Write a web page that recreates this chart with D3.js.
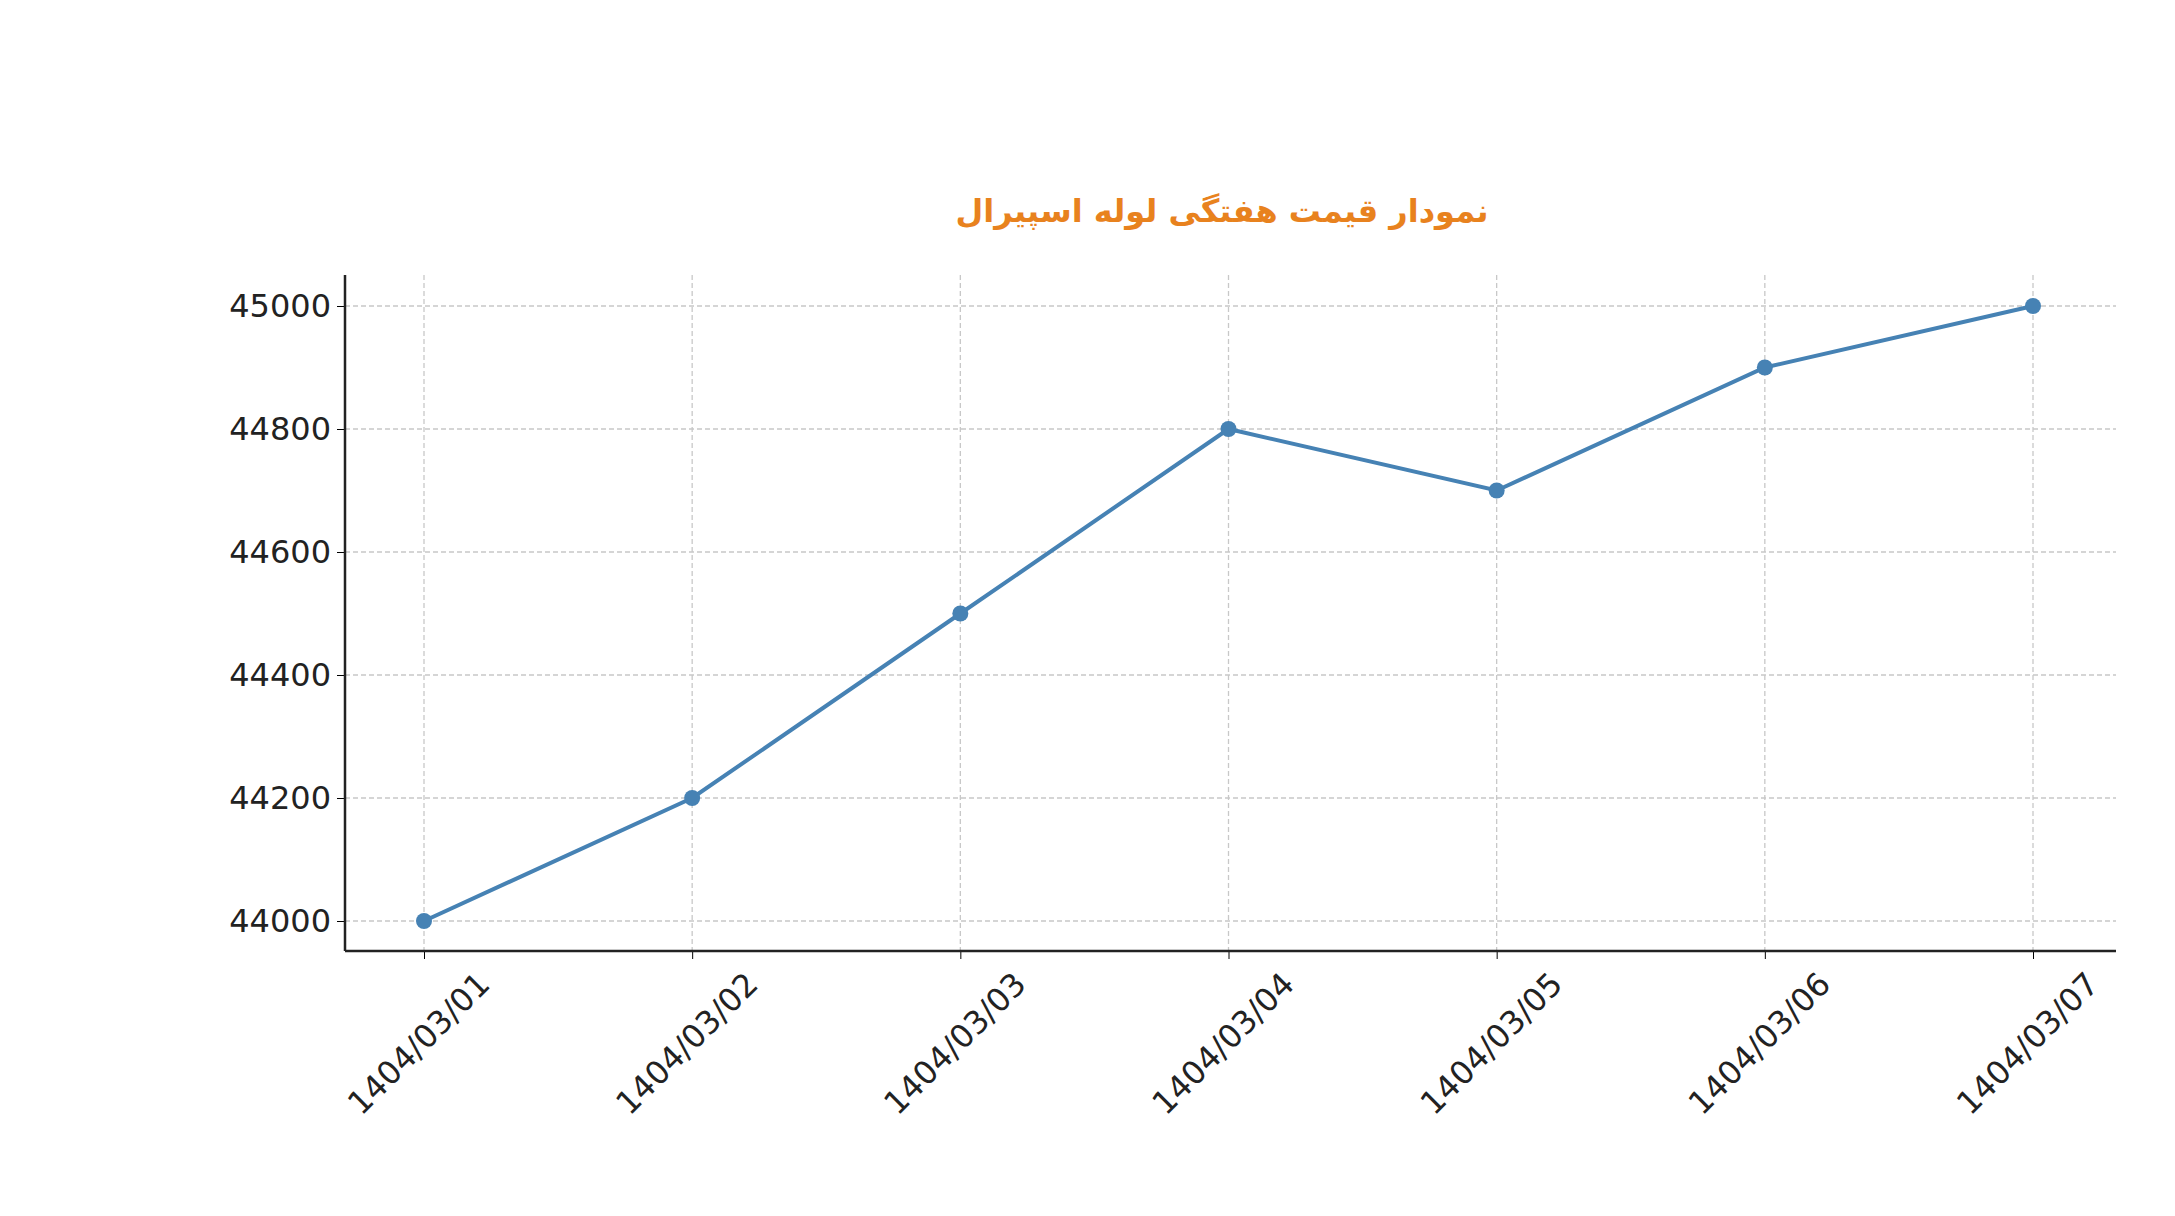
<!DOCTYPE html>
<html><head><meta charset="utf-8">
<script src="https://cdn.jsdelivr.net/npm/d3@7"></script>
<style>body{margin:0;background:#fff}</style></head>
<body><svg id="c" width="2175" height="1216"></svg>
<script>
const categories=["1404/03/01","1404/03/02","1404/03/03","1404/03/04","1404/03/05","1404/03/06","1404/03/07"];
const prices=[44000,44200,44500,44800,44700,44900,45000];
const yTicks=[44000,44200,44400,44600,44800,45000];
const title="نمودار قیمت هفتگی لوله اسپیرال";

const svg=d3.select("#c");
const L=345,R=2116,T=275,B=951;
const x=d3.scalePoint().domain(categories).range([424,2033]);
const y=d3.scaleLinear().domain([44000,45000]).range([921,306]);
const font="DejaVu Sans, sans-serif";

svg.append("g").selectAll("line").data(categories).join("line")
 .attr("x1",d=>x(d)).attr("x2",d=>x(d)).attr("y1",T).attr("y2",B)
 .attr("stroke","#c8c8c8").attr("stroke-width",1.3).attr("stroke-dasharray","5,3");
svg.append("g").selectAll("line").data(yTicks).join("line")
 .attr("x1",L).attr("x2",R).attr("y1",d=>y(d)).attr("y2",d=>y(d))
 .attr("stroke","#c8c8c8").attr("stroke-width",1.3).attr("stroke-dasharray","5,3");

const xa=svg.append("g").attr("transform",`translate(0,${B})`)
 .call(d3.axisBottom(x).tickSize(8).tickPadding(8));
xa.select(".domain").remove();
xa.selectAll("text").attr("font-size",32).attr("font-family",font).attr("fill","#222")
 .attr("text-anchor","end").attr("dx","0").attr("dy","0.7em").attr("transform","translate(40,8) rotate(-45)");
const ya=svg.append("g").attr("transform",`translate(${L},0)`)
 .call(d3.axisLeft(y).tickValues(yTicks).tickSize(8).tickPadding(6).tickFormat(d3.format("d")));
ya.select(".domain").remove();
ya.selectAll("text").attr("font-size",32).attr("font-family",font).attr("fill","#222");
svg.append("line").attr("x1",L).attr("x2",L).attr("y1",T).attr("y2",B).attr("stroke","#222").attr("stroke-width",2.5);
svg.append("line").attr("x1",L).attr("x2",R).attr("y1",B).attr("y2",B).attr("stroke","#222").attr("stroke-width",2.5);

svg.append("path").datum(prices).attr("fill","none").attr("stroke","#4682b4").attr("stroke-width",4)
 .attr("d",d3.line().x((d,i)=>x(categories[i])).y(d=>y(d)));
svg.append("g").selectAll("circle").data(prices).join("circle")
 .attr("cx",(d,i)=>x(categories[i])).attr("cy",d=>y(d)).attr("r",8).attr("fill","#4682b4");

svg.append("text").attr("x",1222).attr("y",222).attr("text-anchor","middle")
 .attr("font-size",32).attr("font-weight","bold").attr("font-family",font)
 .attr("fill","#e8821e").attr("direction","rtl").text(title);
</script></body></html>
